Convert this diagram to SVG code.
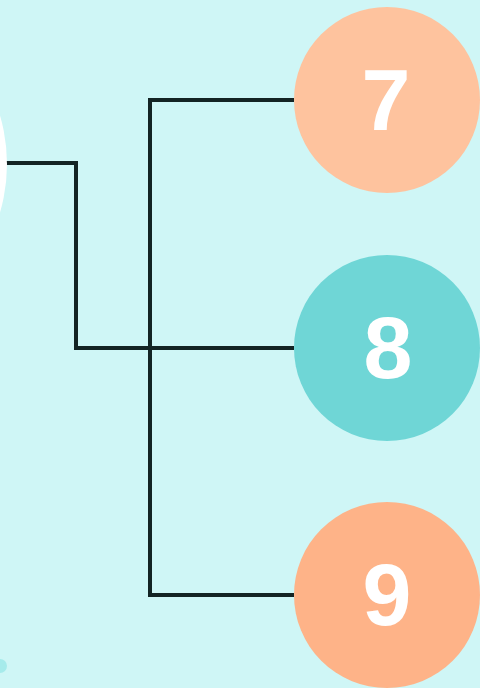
<svg xmlns="http://www.w3.org/2000/svg" width="480" height="688" viewBox="0 0 480 688">
<style>
.conn{fill:none;stroke:#132424;stroke-width:4;stroke-linejoin:miter;stroke-linecap:butt}
.lbl{font-family:"Liberation Sans",Arial,sans-serif;font-weight:bold;font-size:88px;fill:#ffffff;text-anchor:middle}
</style>
<rect x="0" y="0" width="480" height="688" fill="#cff6f6"/>
<ellipse cx="0" cy="666" rx="7" ry="7" fill="#a6ebeb"/>
<g id="connectors">
<polyline class="conn" points="0,163 76,163 76,348 294,348"/>
<polyline class="conn" points="294,100 150,100 150,595 294,595"/>
</g>
<g id="node-root">
<circle cx="-165" cy="164" r="172" fill="#ffffff"/>
</g>
<g id="node-7">
<circle cx="387" cy="100" r="93" fill="#fec39e"/>
<text class="lbl" x="386" y="130">7</text>
</g>
<g id="node-8">
<circle cx="387" cy="348" r="93" fill="#6fd6d6"/>
<text class="lbl" x="388" y="378">8</text>
</g>
<g id="node-9">
<circle cx="387" cy="595" r="93" fill="#feb388"/>
<text class="lbl" x="387" y="625">9</text>
</g>
</svg>
